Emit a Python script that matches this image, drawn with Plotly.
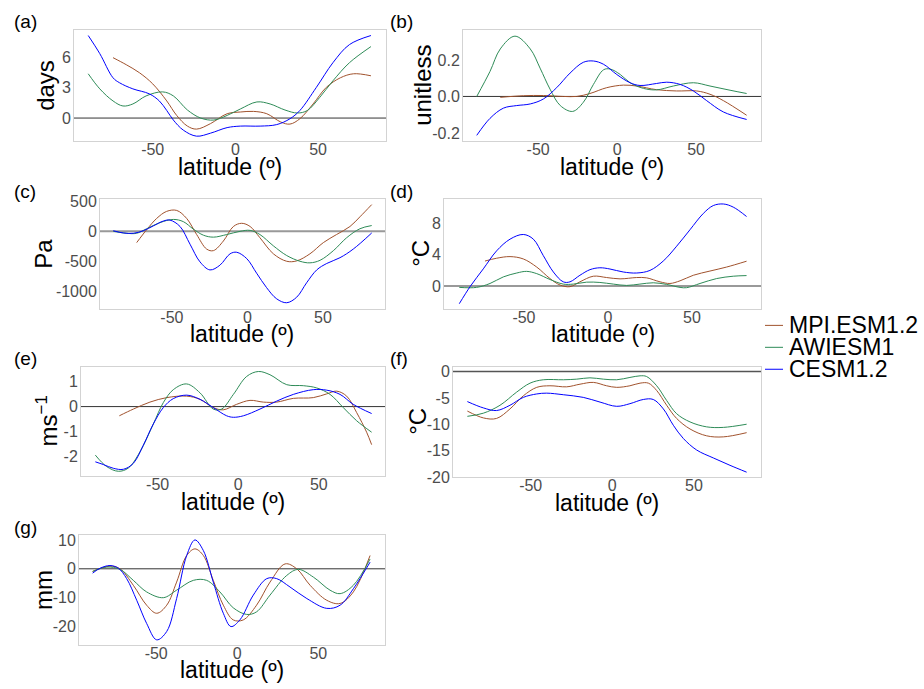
import plotly.graph_objects as go

# ---------------- data ----------------
MODELS = ["MPI.ESM1.2", "AWIESM1", "CESM1.2"]
COLORS = ["#A0522D", "#2E8B57", "#0000FF"]
PANEL_LABELS = ["(a)", "(b)", "(c)", "(d)", "(e)", "(f)", "(g)"]
Y_TITLES = ["days", "unitless", "Pa", "°C", "ms<sup>−1</sup>", "°C", "mm"]
X_TITLE = "latitude (º)"
X_TICKS = [-50, 0, 50]
X_TICKTEXT = ["-50", "0", "50"]

Y_TICKS = [
    [0, 3, 6],
    [-0.2, 0.0, 0.2],
    [-1000, -500, 0, 500],
    [0, 4, 8],
    [-2, -1, 0, 1],
    [-20, -15, -10, -5, 0],
    [-20, -10, 0, 10],
]
Y_TICKTEXT = [
    ["0", "3", "6"],
    ["-0.2", "0.0", "0.2"],
    ["-1000", "-500", "0", "500"],
    ["0", "4", "8"],
    ["-2", "-1", "0", "1"],
    ["-20", "-15", "-10", "-5", "0"],
    ["-20", "-10", "0", "10"],
]

# (a) days
A_MPI_LAT = [-74, -66, -58, -50, -41.5, -35.5, -29, -23.5, -15, -5, 3, 11, 19, 27.5, 33, 39, 47, 55, 63.5, 71.5, 82]
A_MPI = [6.0, 5.3, 4.5, 3.4, 1.7, 0.26, -0.8, -1.1, -0.55, 0.43, 0.6, 0.66, 0.43, -0.4, -0.6, -0.07, 1.4, 3.05, 4.0, 4.4, 4.2]
A_AWI_LAT = [-89, -82, -74, -68, -62, -54, -44, -37.5, -29, -21, -13, -5, 3, 13, 21, 30, 37.5, 43.5, 51, 59, 69, 82]
A_AWI = [4.4, 2.9, 1.7, 1.2, 1.4, 2.2, 2.6, 2.2, 0.8, 0.0, -0.2, 0.26, 0.9, 1.6, 1.4, 0.8, 0.5, 0.75, 2.05, 3.7, 5.5, 7.1]
A_CESM_LAT = [-89, -82, -74, -70, -62, -52, -46, -41.5, -37.5, -31.5, -23.5, -15, -5, 3, 15, 25, 33, 39, 49, 59, 69, 82]
A_CESM = [8.2, 6.4, 4.0, 3.5, 2.9, 2.4, 1.7, 0.75, -0.2, -1.2, -1.8, -1.5, -0.95, -0.8, -0.8, -0.65, -0.07, 0.75, 3.05, 5.5, 7.3, 8.2]

# (b) unitless
B_MPI_LAT = [-74, -59.4, -46.7, -34, -25.6, -17.2, -6.6, 4, 12.4, 25, 37.7, 50.4, 58.8, 67.3, 82]
B_MPI = [-0.005, 0.004, 0.005, 0.0, 0.0, 0.016, 0.048, 0.062, 0.057, 0.037, 0.03, 0.03, 0.012, -0.023, -0.103]
B_AWI_LAT = [-88.9, -80.5, -74, -64.7, -55, -48.8, -42.5, -36, -28.2, -21.4, -15, -8.6, -4.4, 2, 8.2, 16.7, 25, 35.6, 48.3, 58.8, 71.5, 82]
B_AWI = [0.0, 0.137, 0.26, 0.33, 0.26, 0.155, 0.04, -0.05, -0.082, -0.032, 0.066, 0.146, 0.15, 0.12, 0.075, 0.044, 0.036, 0.057, 0.075, 0.057, 0.034, 0.016]
B_CESM_LAT = [-88.9, -80.5, -72, -63.6, -55, -46.7, -38.3, -29.8, -21.4, -15, -8.6, -0.2, 8.2, 14.5, 25, 31.4, 39.8, 48.3, 56.7, 67.3, 82]
B_CESM = [-0.213, -0.12, -0.064, -0.05, -0.041, -0.014, 0.048, 0.128, 0.187, 0.194, 0.176, 0.12, 0.075, 0.06, 0.071, 0.078, 0.066, 0.03, -0.023, -0.085, -0.126]

# (c) Pa
C_MPI_LAT = [-73.3, -66.7, -60.1, -53.5, -46.8, -40.2, -33.6, -27, -22.5, -15.9, -9.3, -3.8, 1.8, 8.3, 17.2, 26, 32.6, 41.4, 50.3, 59, 67.9, 74.5, 82.3]
C_MPI = [-186, 27, 213, 330, 346, 213, -53, -293, -319, -160, 80, 133, 80, -106, -372, -495, -489, -372, -186, -53, 80, 240, 442]
C_AWI_LAT = [-88.8, -80, -73.3, -66.7, -57.9, -49, -42.4, -35.8, -29.1, -22.5, -13.7, -4.9, 1.8, 8.3, 17.2, 26, 34.8, 41.4, 48.1, 56.9, 65.7, 74.5, 82.3]
C_AWI = [0, -32, -32, 43, 144, 197, 160, 37, -64, -96, -53, 0, 16, -53, -240, -400, -495, -521, -479, -320, -106, 43, 96]
C_CESM_LAT = [-88.8, -82, -75.5, -68.9, -62.3, -55.7, -51.3, -44.6, -38, -31.4, -24.8, -18.2, -11.5, -7.1, -0.4, 6.1, 12.7, 19.4, 26, 32.6, 39.2, 45.9, 52.5, 61.3, 70.1, 82.3]
C_CESM = [10, -27, -32, 10, 90, 170, 186, 80, -213, -505, -638, -560, -372, -346, -452, -692, -931, -1117, -1181, -1090, -851, -638, -532, -436, -293, -27]

# (d) degC
D_MPI_LAT = [-73.2, -66.3, -58.3, -50.4, -42.4, -34.5, -28.5, -22.6, -16.7, -8.7, -0.8, 7.2, 17.1, 23, 31, 36.9, 42.9, 50.8, 60.7, 70.6, 82.5]
D_MPI = [3.2, 3.56, 3.77, 3.47, 2.43, 0.96, 0.13, -0.08, 0.54, 1.26, 1.09, 0.92, 1.09, 1.05, 0.54, 0.33, 0.67, 1.38, 1.92, 2.43, 3.18]
D_AWI_LAT = [-88.5, -78.2, -70.2, -62.3, -54.3, -48.4, -42.4, -34.5, -26.6, -20.6, -12.7, -4.8, 3.2, 11.1, 19, 27, 34.9, 42.9, 46.8, 54.8, 64.7, 74.6, 82.5]
D_AWI = [-0.17, -0.17, 0.33, 1.17, 1.67, 1.88, 1.59, 0.84, 0.25, 0.25, 0.5, 0.46, 0.25, 0.08, 0.25, 0.42, 0.21, -0.17, -0.21, 0.33, 0.96, 1.26, 1.34]
D_CESM_LAT = [-88.5, -82.1, -74.2, -66.3, -58.3, -50.4, -44.4, -38.5, -32.5, -26.6, -22.6, -16.7, -10.7, -4.8, 1.2, 9.1, 17.1, 25, 32.9, 40.9, 48.8, 56.8, 62.7, 68.7, 74.6, 82.5]
D_CESM = [-2.26, -0.08, 2.2, 4.5, 6.0, 6.6, 6.0, 3.9, 1.8, 0.54, 0.54, 1.38, 2.1, 2.34, 2.18, 1.8, 1.67, 2.0, 3.2, 5.1, 7.2, 9.3, 10.3, 10.5, 10.1, 8.9]

# (e) m s-1
E_MPI_LAT = [-73.8, -65.1, -54.8, -44.4, -32, -23.7, -15.5, -9.3, -1, 7.3, 15.6, 23.9, 34.2, 46.6, 54.9, 61.1, 67.3, 73.5, 79.7, 82.8]
E_MPI = [-0.37, -0.1, 0.18, 0.36, 0.42, 0.29, -0.04, -0.13, 0.09, 0.25, 0.18, 0.18, 0.33, 0.36, 0.51, 0.62, 0.42, -0.24, -1.03, -1.53]
E_AWI_LAT = [-88.7, -81.7, -74.4, -68.2, -61, -52.7, -46.5, -40.3, -32, -23.7, -15.5, -10.3, -3, 5.2, 12.5, 19.7, 30.1, 40.4, 48.7, 57, 65.2, 73.5, 82.8]
E_AWI = [-1.95, -2.41, -2.6, -2.47, -1.82, -0.7, 0.16, 0.68, 0.91, 0.55, -0.1, -0.1, 0.49, 1.21, 1.41, 1.28, 0.88, 0.84, 0.75, 0.49, -0.04, -0.57, -1.03]
E_CESM_LAT = [-88.7, -83.7, -77.5, -71.3, -65.1, -58.9, -52.7, -46.5, -40.3, -32, -23.7, -15.5, -7.2, -3, 3.2, 13.5, 23.9, 34.2, 46.6, 54.9, 63.2, 71.4, 82.8]
E_CESM = [-2.22, -2.33, -2.48, -2.52, -2.28, -1.55, -0.7, -0.04, 0.32, 0.46, 0.29, -0.04, -0.37, -0.43, -0.37, -0.1, 0.22, 0.49, 0.68, 0.66, 0.49, 0.09, -0.28]

# (f) degC
F_MPI_LAT = [-88.8, -79, -70.9, -62.7, -54.5, -46.3, -38.2, -28, -19.8, -11.6, -3.5, 2.7, 10.8, 17, 22.1, 27.2, 33.3, 39.4, 47.6, 57.8, 68, 82.3]
F_MPI = [-7.5, -8.8, -8.9, -7.1, -4.6, -3.0, -2.7, -2.9, -2.4, -2.06, -2.7, -3.0, -2.7, -2.2, -2.2, -3.6, -6.4, -8.9, -10.9, -12.2, -12.4, -11.6]
F_AWI_LAT = [-88.8, -79, -68.8, -58.6, -50.4, -42.3, -30, -21.8, -13.7, -5.5, 2.7, 10.8, 17, 21, 27.2, 33.3, 39.4, 47.6, 57.8, 68, 82.3]
F_AWI = [-8.5, -7.9, -6.4, -3.9, -2.2, -1.56, -1.56, -1.44, -1.19, -1.44, -1.56, -1.12, -0.81, -0.94, -2.7, -5.5, -8.0, -9.56, -10.5, -10.6, -10.0]
F_CESM_LAT = [-88.8, -79, -70.9, -62.7, -54.5, -46.3, -40.2, -30, -17.8, -7.5, 2.7, 10.8, 19, 25.1, 31.3, 37.4, 43.5, 51.7, 61.9, 72.1, 82.3]
F_CESM = [-5.7, -6.9, -7.4, -6.4, -4.9, -4.25, -4.1, -4.4, -4.9, -5.8, -6.6, -6.1, -5.3, -5.3, -7.1, -10.2, -12.7, -14.9, -16.4, -17.8, -19.1]

# (g) mm
G_MPI_LAT = [-89.2, -78.5, -72.3, -64.1, -55.9, -49.7, -43.5, -37.4, -31.2, -26.1, -20.9, -14.8, -8.6, -2.5, 3.7, 11.9, 20.2, 29.5, 36.7, 44.9, 55.2, 63.4, 71.6, 81.9]
G_MPI = [-0.9, 0.9, 0.0, -5.7, -12.6, -15.4, -12.6, -4.6, 4.6, 6.9, 4.6, -4.0, -12.6, -17.7, -17.7, -12.6, -4.6, 1.7, 0.0, -5.7, -10.9, -12.0, -8.0, 4.6]
G_AWI_LAT = [-89.2, -80.5, -72.3, -64.1, -55.9, -45.6, -37.4, -27.1, -18.9, -10.7, -2.5, 5.8, 11.9, 20.2, 30.5, 37.7, 47, 57.2, 63.4, 71.6, 81.9]
G_AWI = [-0.9, 0.6, -0.2, -4.0, -8.0, -10.0, -7.4, -4.0, -4.0, -8.0, -13.5, -15.8, -14.9, -9.1, -2.3, -0.2, -2.9, -7.4, -8.6, -5.7, 3.4]
G_CESM_LAT = [-89.2, -84.6, -78.5, -73.3, -68.2, -62, -55.9, -49.7, -43.5, -37.4, -31.2, -26.1, -20.9, -14.8, -8.6, -3.9, 1.6, 9.9, 18.2, 24.3, 32.5, 42.9, 55.2, 63.4, 71.6, 81.9]
G_CESM = [-1.5, 0.2, 1.14, 0.2, -3.4, -10.9, -18.9, -24.6, -21.7, -10.3, 4.6, 10.0, 6.3, -4.6, -15.4, -20.0, -17.7, -9.1, -3.4, -3.4, -6.3, -10.3, -13.7, -12.6, -6.9, 2.3]

PANEL_SERIES = [
    [(A_MPI_LAT, A_MPI), (A_AWI_LAT, A_AWI), (A_CESM_LAT, A_CESM)],
    [(B_MPI_LAT, B_MPI), (B_AWI_LAT, B_AWI), (B_CESM_LAT, B_CESM)],
    [(C_MPI_LAT, C_MPI), (C_AWI_LAT, C_AWI), (C_CESM_LAT, C_CESM)],
    [(D_MPI_LAT, D_MPI), (D_AWI_LAT, D_AWI), (D_CESM_LAT, D_CESM)],
    [(E_MPI_LAT, E_MPI), (E_AWI_LAT, E_AWI), (E_CESM_LAT, E_CESM)],
    [(F_MPI_LAT, F_MPI), (F_AWI_LAT, F_AWI), (F_CESM_LAT, F_CESM)],
    [(G_MPI_LAT, G_MPI), (G_AWI_LAT, G_AWI), (G_CESM_LAT, G_CESM)],
]

# ---------------- layout ----------------
W, H = 924, 689
X_RANGE = [-97.6, 91.1]
Y_RANGES = [
    [-2.3, 8.7],
    [-0.245, 0.361],
    [-1280, 535],
    [-2.9, 11.14],
    [-2.8, 1.61],
    [-20.06, 0.955],
    [-26.3, 11.7],
]
# plot boxes in pixels: left, right, top, bottom
BOXES = [
    (74, 386, 25, 138),
    (463, 761, 25, 138),
    (100, 385, 197, 309),
    (444, 761, 197, 309),
    (81, 385, 368, 480),
    (453, 761, 368, 481),
    (79, 385, 540, 652),
]
LABEL_POS = [(12, 16), (388, 16), (12, 189), (388, 189), (12, 360), (388, 360), (12, 532)]
YTITLE_X = [46, 423, 44, 421, 47, 418, 44]
XTITLE_DY = 26
ZERO_STYLE = [("#333333", 1), ("#333333", 1), ("#999999", 2), ("#999999", 2),
              ("#333333", 1), ("#555555", 1.5), ("#333333", 1)]
LEGEND_X0, LEGEND_X1, LEGEND_TX, LEGEND_Y0, LEGEND_DY = 765, 783, 787, 326, 22.4

FONT = "Liberation Sans, Arial, sans-serif"
TICK_FONT = dict(size=16, color="#4d4d4d", family=FONT)
TITLE_FONT = dict(size=23, color="#000000", family=FONT)
YTITLE_FONT = dict(size=24, color="#000000", family=FONT)


def px(x):
    return x / W


def py(y):
    return 1 - y / H


fig = go.Figure()
layout = dict(
    width=W, height=H,
    margin=dict(l=0, r=0, t=0, b=0),
    paper_bgcolor="white", plot_bgcolor="white",
    font=dict(family=FONT, color="#000000"),
    showlegend=False,
    annotations=[], shapes=[],
)

for i in range(7):
    n = i + 1
    sfx = "" if n == 1 else str(n)
    L, R, T, B = BOXES[i]
    for k, (lat, val) in enumerate(PANEL_SERIES[i]):
        fig.add_trace(go.Scatter(
            x=lat, y=val, mode="lines",
            line=dict(color=COLORS[k], width=1, shape="spline", smoothing=1.0),
            name=MODELS[k], legendgroup=MODELS[k], showlegend=False,
            xaxis="x" + sfx, yaxis="y" + sfx,
        ))
    layout["xaxis" + sfx] = dict(
        domain=[px(L), px(R)], anchor="y" + sfx, range=X_RANGE,
        tickvals=X_TICKS, ticktext=X_TICKTEXT, ticks="",
        tickfont=TICK_FONT, ticklabelstandoff=-6,
        showgrid=False, zeroline=False,
        showline=True, mirror=True, linecolor="#d3d3d3", linewidth=1,
    )
    layout["yaxis" + sfx] = dict(
        domain=[py(B), py(T)], anchor="x" + sfx, range=Y_RANGES[i],
        tickvals=Y_TICKS[i], ticktext=Y_TICKTEXT[i], ticks="",
        tickfont=TICK_FONT, ticklabelstandoff=-1,
        showgrid=False, zeroline=False,
        showline=True, mirror=True, linecolor="#d3d3d3", linewidth=1,
    )
    zc, zw = ZERO_STYLE[i]
    layout["shapes"].append(dict(
        type="line", xref="x" + sfx + " domain", yref="y" + sfx,
        x0=0, x1=1, y0=0, y1=0, line=dict(color=zc, width=zw), layer="below",
    ))
    lx, ly = LABEL_POS[i]
    layout["annotations"].append(dict(
        text=PANEL_LABELS[i], xref="paper", yref="paper",
        x=px(lx), y=py(ly), xanchor="left", yanchor="middle",
        showarrow=False, font=dict(size=19, color="#000000", family=FONT),
    ))
    # x axis title
    layout["annotations"].append(dict(
        text=X_TITLE, xref="paper", yref="paper",
        x=px((L + R) / 2), y=py(B + XTITLE_DY), xanchor="center", yanchor="middle",
        showarrow=False, font=TITLE_FONT,
    ))
    # y axis title
    layout["annotations"].append(dict(
        text=Y_TITLES[i], xref="paper", yref="paper", textangle=-90,
        x=px(YTITLE_X[i]), y=py((T + B) / 2), xanchor="center", yanchor="middle",
        showarrow=False, font=YTITLE_FONT,
    ))

# legend (key lines + labels)
for k, name in enumerate(MODELS):
    yk = LEGEND_Y0 + k * LEGEND_DY
    layout["shapes"].append(dict(
        type="line", xref="paper", yref="paper",
        x0=px(LEGEND_X0), x1=px(LEGEND_X1), y0=py(yk), y1=py(yk),
        line=dict(color=COLORS[k], width=1),
    ))
    layout["annotations"].append(dict(
        text=name, xref="paper", yref="paper",
        x=px(LEGEND_TX), y=py(yk), xanchor="left", yanchor="middle",
        showarrow=False, font=dict(size=23, color="#000000", family=FONT),
    ))

fig.update_layout(**layout)
fig.write_html(
    "out.html",
    config={"displayModeBar": False},
    post_script="document.body.style.margin='0px';document.body.style.overflow='hidden';",
)
